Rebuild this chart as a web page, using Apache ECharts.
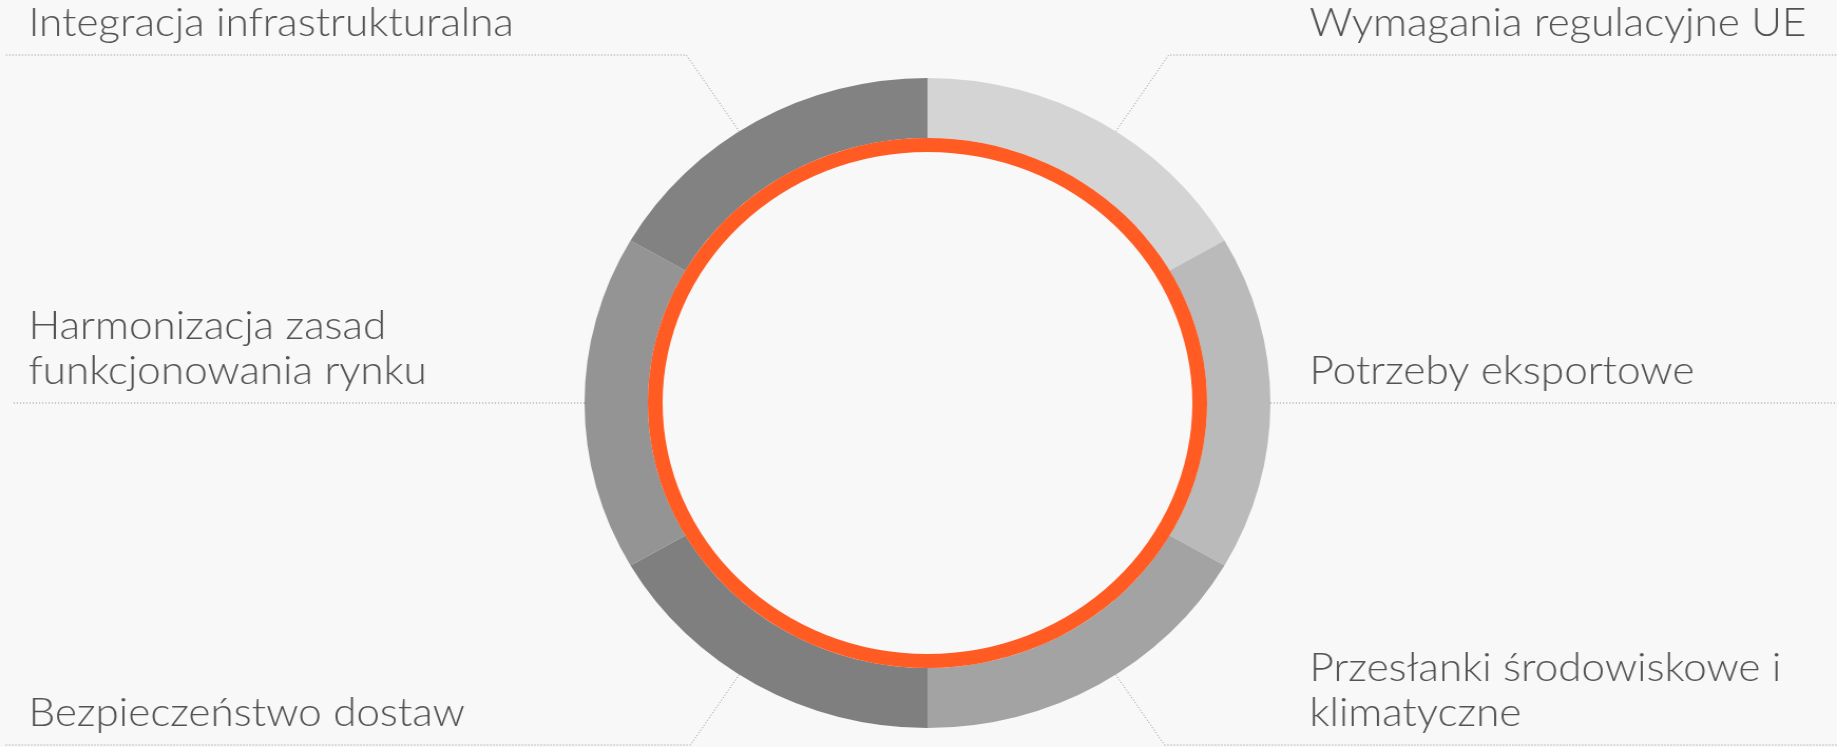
<!DOCTYPE html>
<html>
<head>
<meta charset="utf-8">
<script src="https://cdn.jsdelivr.net/npm/echarts@6/dist/echarts.min.js"></script>
<style>
html, body { margin: 0; padding: 0; background: #f8f8f8; overflow: hidden; }
/* the source picture is stretched a little wide, so draw narrower and stretch */
#chart { width: 1741px; height: 747px; transform: scaleX(1.05514); transform-origin: 0 0; }
</style>
</head>
<body>
<div id="chart"></div>
<script>
// segments, clockwise from 12 o'clock
var names = [
    'Wymagania regulacyjne UE',
    'Potrzeby eksportowe',
    'Przesłanki środowiskowe i\nklimatyczne',
    'Bezpieczeństwo dostaw',
    'Harmonizacja zasad\nfunkcjonowania rynku',
    'Integracja infrastrukturalna'
];
var values = [1, 1, 1, 1, 1, 1];
var colors = ['#d4d4d4', '#bababa', '#a3a3a3', '#7f7f7f', '#949494', '#828282'];

var W = 1741, H = 747;
var cx = 879, cy = 403;
var rOut = 325, rIn = 265, rRing = 251;
var topY = 55, bottomY = 745;

var total = values.reduce(function(s, v) { return s + v; }, 0);

var myChart = echarts.init(document.getElementById('chart'));

// place label above a dotted leader that runs out to the edge
function placeLabel(params) {
    var i = params.dataIndex;
    var before = 0;
    for (var k = 0; k < i; k++) before += values[k];
    var deg = 90 - 360 * (before + values[i] / 2) / total;
    var a = deg * Math.PI / 180;
    var s = Math.sin(a), c = Math.cos(a);
    var flat = Math.abs(s) < 0.1;
    if (!flat) {
        a = (deg - 3.3 * Math.sign(s) * Math.sign(c)) * Math.PI / 180;
        s = Math.sin(a);
        c = Math.cos(a);
    }
    var lineY = flat ? cy : (s > 0 ? topY : bottomY);
    var p0 = [cx + rOut * c, cy - rOut * s];
    var p1 = p0;
    if (!flat) {
        var t = (cy - lineY) / s;
        p1 = [cx + t * c, lineY];
    }
    var right = c > 0;
    var p2 = [right ? W : (flat ? 11 : 5), lineY];
    return {
        x: right ? 1241 : 27,
        y: lineY - 9,
        align: 'left',
        verticalAlign: 'bottom',
        labelLinePoints: [p0, p1, p2]
    };
}

var option = {
    backgroundColor: '#f8f8f8',
    animation: false,
    series: [{
        type: 'pie',
        center: [cx, cy],
        radius: [rIn, rOut],
        startAngle: 90,
        clockwise: true,
        avoidLabelOverlap: false,
        silent: true,
        data: names.map(function(n, i) {
            return { name: n, value: values[i], itemStyle: { color: colors[i] } };
        }),
        label: {
            show: true,
            position: 'outside',
            color: '#525252',
            fontFamily: 'Lato',
            fontWeight: 300,
            fontSize: 40,
            lineHeight: 45,
            width: 650,
            overflow: 'none'
        },
        labelLine: {
            show: true,
            smooth: false,
            lineStyle: { color: '#8f8f8f', width: 1, type: [1, 2] }
        },
        labelLayout: placeLabel
    }, {
        type: 'pie',
        center: [cx, cy],
        radius: [rRing, rIn],
        silent: true,
        z: 3,
        data: [{ name: 'ring', value: total, itemStyle: { color: '#ff5b22' } }],
        label: { show: false },
        labelLine: { show: false }
    }]
};

myChart.setOption(option);
</script>
</body>
</html>
